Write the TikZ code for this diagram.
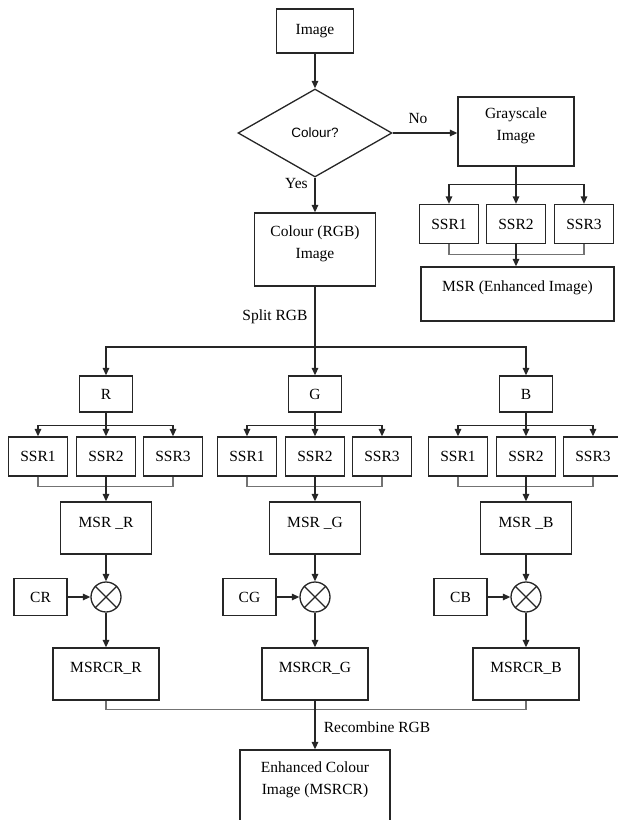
\documentclass[tikz,border=0pt]{standalone}
\usepackage{fontspec}
\setmainfont{Liberation Serif}
\newfontfamily\sansf{Liberation Sans}
\usetikzlibrary{arrows.meta,shapes.geometric}
\begin{document}
\begin{tikzpicture}[x=1pt,y=-1pt,
  every node/.style={font=\fontsize{15.5}{22}\selectfont},
  box/.style={draw, line width=1.3pt, inner sep=0pt, rectangle, draw=black!85},
  ssr/.style={box, minimum width=59pt, minimum height=39pt},
  ar/.style={line width=1.3pt, draw=black!85, -{Triangle[length=7.5pt,width=6.5pt]}},
  ln/.style={line width=1.3pt, draw=black!85},
  mg/.style={line width=1.3pt, black!55},
  lbl/.style={inner sep=0pt}]
\path[use as bounding box] (0,0) rectangle (618,820);
\clip (0,0) rectangle (618,820);

% main column
\node[box, minimum width=77pt, minimum height=44pt] (img) at (315,31) {Image};
\node[draw=black!85, diamond, aspect=1.75, line width=1.3pt, minimum width=154pt, minimum height=88pt, inner sep=0pt,
      font=\sansf\fontsize{13.5}{16}\selectfont] (dia) at (315,133) {Colour?};
\node[box, minimum width=121pt, minimum height=73pt] (rgb) at (315,249.5) {};
\node[align=center] (rgbt) at (315,244) {Colour (RGB)\\Image};
\draw[ar] (img.south) -- (dia.north);
\draw[ar] (dia.south) -- (rgb.north);
\node[lbl] (yes) at (296.5,183) {Yes};

% grayscale branch
\node[box, minimum width=116pt, minimum height=69pt] (gray) at (516,131.5) {};
\node[align=center] (grayt) at (516,126) {Grayscale\\Image};
\draw[ar] (dia.east) -- (dia.east -| gray.west);
\node[lbl] (no) at (418,118) {No};
\node[ssr] (g1) at (449,224) {SSR1};
\node[ssr] (g2) at (516,224) {SSR2};
\node[ssr] (g3) at (584,224) {SSR3};
\node[box, minimum width=193pt, minimum height=54pt] (msrE) at (517.5,294) {};
\node (msrEt) at (517.5,288) {MSR (Enhanced Image)};
\draw[ln] (gray.south) -- ++(0,18) coordinate (gbr);
\draw[ar] (gbr) -| (g1.north);
\draw[ar] (gbr) -| (g3.north);
\draw[ar] (gbr) -- (g2.north);
\draw[mg] (g1.south) -- ++(0,10) -| (g3.south);
\draw[ar] (g2.south) -- (g2.south |- msrE.north);

% split RGB
\coordinate (sp) at (315,347);
\node[lbl] (split) at (275,317) {Split RGB};

\foreach \k/\x in {R/106, G/315, B/526} {
  \node[box, minimum width=53pt, minimum height=36pt] (\k) at (\x,394) {\k};
  \node[ssr] (\k1) at (\x-68,456.5) {SSR1};
  \node[ssr] (\k2) at (\x,456.5) {SSR2};
  \node[ssr] (\k3) at (\x+67,456.5) {SSR3};
  \node[box, minimum width=91pt, minimum height=52pt] (msr\k) at (\x,528) {};
  \node (msr\k t) at (\x,523) {MSR \_\k};
  \node[draw=black!85, circle, line width=1.3pt, minimum size=30pt, inner sep=0pt] (ox\k) at (\x,597) {};
  \draw[line width=1.3pt, draw=black!85] (ox\k.north west) -- (ox\k.south east) (ox\k.north east) -- (ox\k.south west);
  \node[box, minimum width=53pt, minimum height=37pt] (C\k) at (\x-65.5,597) {C\k};
  \node[box, minimum width=106pt, minimum height=52pt] (mc\k) at (\x,674) {};
  \node (mc\k t) at (\x,668) {MSRCR\_\k};
  \draw[ln] (\k.south) -- ++(0,13) coordinate (br\k);
  \draw[ar] (br\k) -| (\k1.north);
  \draw[ar] (br\k) -| (\k3.north);
  \draw[ar] (br\k) -- (\k2.north);
  \draw[mg] (\k1.south) -- ++(0,10) -| (\k3.south);
  \draw[ar] (\k2.south) -- (msr\k.north);
  \draw[ar] (msr\k.south) -- (ox\k.north);
  \draw[ar] (C\k.east) -- (ox\k.west);
  \draw[ar] (ox\k.south) -- (mc\k.north);
}

\draw[ln] (rgb.south) -- (sp);
\draw[ar] (sp) -| (R.north);
\draw[ar] (sp) -| (B.north);
\draw[ar] (sp) -- (G.north);

% recombine
\node[box, minimum width=150pt, minimum height=80pt] (enh) at (315,790) {};
\node[align=center] (enht) at (315,780) {Enhanced Colour\\Image (MSRCR)};
\draw[mg] (mcR.south) -- ++(0,9) -| (mcB.south);
\draw[ar] (mcG.south) -- (enh.north);
\node[lbl] (rec) at (377,727) {Recombine RGB};
\end{tikzpicture}
\end{document}
